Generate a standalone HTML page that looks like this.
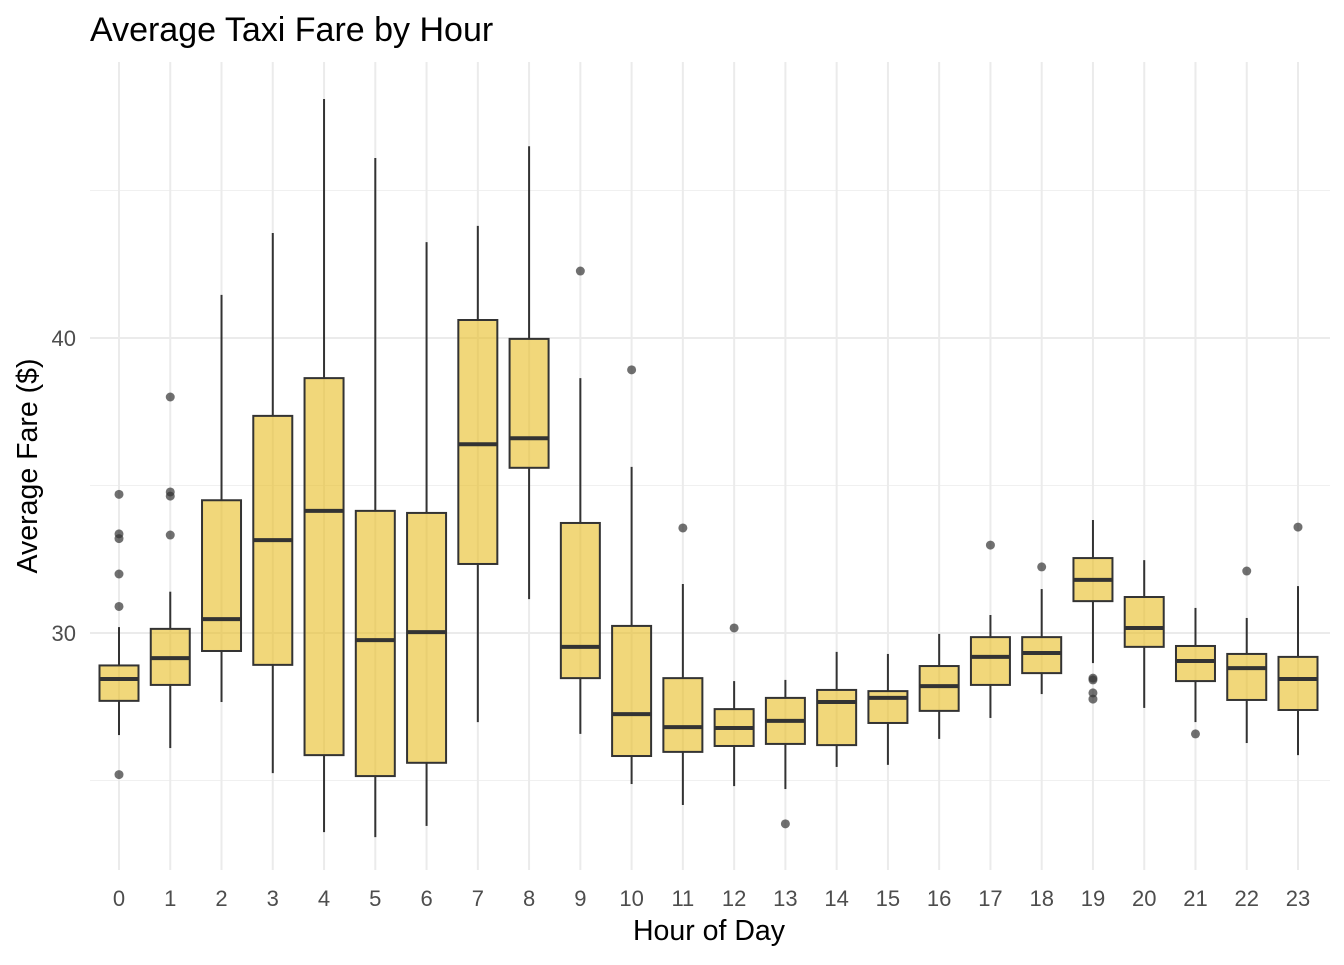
<!DOCTYPE html>
<html><head><meta charset="utf-8"><style>
body{margin:0;background:#fff;font-family:"Liberation Sans",sans-serif}
</style></head><body>
<svg id="chart" width="1344" height="960" xmlns="http://www.w3.org/2000/svg" font-family="Liberation Sans, sans-serif">
<text x="90" y="41" font-size="34" fill="#000">Average Taxi Fare by Hour</text>
<text x="709" y="940" font-size="28.5" text-anchor="middle" fill="#000">Hour of Day</text>
<text transform="translate(37,466) rotate(-90)" font-size="28.5" text-anchor="middle" fill="#000">Average Fare ($)</text>
<g id="grid"></g><g id="boxes"></g><g id="ticks"></g>
</svg>
<script>
const hours=[0,1,2,3,4,5,6,7,8,9,10,11,12,13,14,15,16,17,18,19,20,21,22,23];
const whiskerHigh=[30.2,31.4,41.46,43.56,48.1,46.1,43.25,43.8,46.5,38.64,35.63,31.66,28.37,28.41,29.36,29.29,29.97,30.61,31.49,33.83,32.47,30.85,30.51,31.59];
const q3=[28.9,30.14,34.5,37.36,38.64,34.14,34.07,40.61,39.97,33.73,30.24,28.47,27.42,27.8,28.07,28.03,28.88,29.86,29.86,32.54,31.22,29.56,29.29,29.19];
const median=[28.44,29.15,30.47,33.15,34.14,29.76,30.03,36.4,36.6,29.53,27.25,26.81,26.78,27.02,27.66,27.8,28.2,29.19,29.32,31.8,30.17,29.05,28.81,28.44];
const q1=[27.7,28.24,29.39,28.92,25.86,25.15,25.6,32.34,35.6,28.47,25.83,25.97,26.17,26.24,26.2,26.95,27.36,28.24,28.64,31.08,29.53,28.37,27.73,27.39];
const whiskerLow=[26.54,26.1,27.66,25.25,23.25,23.08,23.46,26.98,31.15,26.58,24.88,24.17,24.81,24.71,25.46,25.53,26.41,27.12,27.93,28.98,27.46,26.98,26.27,25.86];
const outliers=[[34.7,33.36,33.2,32.0,30.9,25.2],[38.0,34.78,34.64,33.32],[],[],[],[],[],[],[],[42.27],[38.92],[33.56],[30.17],[23.53],[],[],[],[32.98],[32.24],[28.47,28.41,27.97,27.76],[],[26.58],[32.1],[33.59]];
const yTicks=[30,40];
const yMinor=[25,35,45];
const NS="http://www.w3.org/2000/svg";
const X=h=>119+h*(1298-119)/23;
const Y=v=>338-(v-40)*29.5;
function mk(t,a,p){const e=document.createElementNS(NS,t);for(const k in a)e.setAttribute(k,a[k]);p.appendChild(e);return e;}
const grid=document.getElementById('grid'),boxes=document.getElementById('boxes'),ticks=document.getElementById('ticks');
yMinor.forEach(v=>{const l=mk('line',{x1:90,x2:1330,y1:Y(v),y2:Y(v),stroke:'#f0f0f0','stroke-width':1},grid);

});
yTicks.forEach(v=>{const l=mk('line',{x1:90,x2:1330,y1:Y(v),y2:Y(v),stroke:'#ebebeb','stroke-width':2},grid);


const t=mk('text',{x:76,y:Y(v)+8,'font-size':22,fill:'#4d4d4d','text-anchor':'end'},ticks);t.textContent=v;

});
hours.forEach((h,i)=>{const x=X(h);
const g=mk('line',{x1:x,x2:x,y1:62,y2:870,stroke:'#ebebeb','stroke-width':2},grid);


const t=mk('text',{x:x,y:906,'font-size':22,fill:'#4d4d4d','text-anchor':'middle'},ticks);t.textContent=h;


const grp=mk('g',{},boxes);


mk('line',{x1:x,x2:x,y1:Y(whiskerHigh[i]),y2:Y(q3[i]),stroke:'#333','stroke-width':2},grp);
mk('line',{x1:x,x2:x,y1:Y(q1[i]),y2:Y(whiskerLow[i]),stroke:'#333','stroke-width':2},grp);
mk('rect',{x:x-19.5,y:Y(q3[i]),width:39,height:Y(q1[i])-Y(q3[i]),fill:'rgba(232,190,40,0.62)',stroke:'#333','stroke-width':2},grp);
mk('line',{x1:x-19.5,x2:x+19.5,y1:Y(median[i]),y2:Y(median[i]),stroke:'#333','stroke-width':4},grp);
outliers[i].forEach(o=>{const c=mk('circle',{cx:x,cy:Y(o),r:4.5,fill:'rgba(51,51,51,0.7)'},grp);

});
});
</script>
</body></html>
